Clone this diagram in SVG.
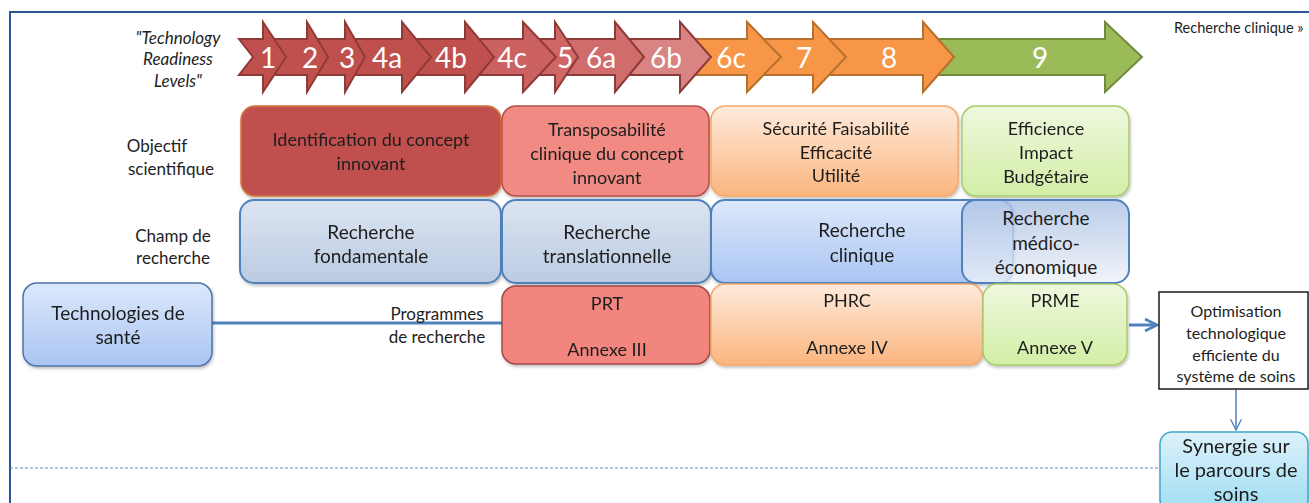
<svg xmlns="http://www.w3.org/2000/svg" width="1309" height="503" viewBox="0 0 1309 503">
  <defs>
    <linearGradient id="gOrange" x1="0" y1="0" x2="0" y2="1">
      <stop offset="0" stop-color="#FEEBDC"/>
      <stop offset="1" stop-color="#FBB57E"/>
    </linearGradient>
    <linearGradient id="gGreen" x1="0" y1="0" x2="0" y2="1">
      <stop offset="0" stop-color="#EEF8DE"/>
      <stop offset="1" stop-color="#D3EEA6"/>
    </linearGradient>
    <linearGradient id="gSlate" x1="0" y1="0" x2="0" y2="1">
      <stop offset="0" stop-color="#DCE4F0"/>
      <stop offset="1" stop-color="#BACBE3"/>
    </linearGradient>
    <linearGradient id="gBlue" x1="0" y1="0" x2="0" y2="1">
      <stop offset="0" stop-color="#DDE8FB"/>
      <stop offset="1" stop-color="#A9C5F2"/>
    </linearGradient>
    <linearGradient id="gMedEco" x1="0" y1="0" x2="0" y2="1">
      <stop offset="0" stop-color="#A9BFE3" stop-opacity="0.8"/>
      <stop offset="1" stop-color="#EEF2F8" stop-opacity="0.8"/>
    </linearGradient>
    <linearGradient id="gCyan" x1="0" y1="0" x2="0" y2="1">
      <stop offset="0" stop-color="#DDF2FB"/>
      <stop offset="1" stop-color="#9FDDF3"/>
    </linearGradient>
    <filter id="shadow" x="-5%" y="-5%" width="110%" height="120%">
      <feDropShadow dx="1" dy="2" stdDeviation="1.5" flood-color="#000" flood-opacity="0.25"/>
    </filter>
    <marker id="head" viewBox="0 0 10 10" refX="9" refY="5" markerWidth="5" markerHeight="5" orient="auto">
      <path d="M1,1 L9,5 L1,9" fill="none" stroke="#4F81BD" stroke-width="1.8"/>
    </marker>
    <marker id="headThin" viewBox="0 0 10 10" refX="9" refY="5" markerWidth="9" markerHeight="9" orient="auto">
      <path d="M1,1 L9,5 L1,9" fill="none" stroke="#4F81BD" stroke-width="1"/>
    </marker>
  </defs>
  <style>
    text { font-family: Lato, "Open Sans", "Liberation Sans", sans-serif; fill: #1e1e1e; text-anchor: middle; }
    .lvl { fill: #ffffff; font-size: 28px; }
    .side { font-size: 17px; }
    .box { font-size: 18px; }
    .big { font-size: 19px; }
    .arR { stroke: #8E3A37; stroke-width: 2; stroke-linejoin: miter; }
    .arO { fill: #F79646; stroke: #B8702F; stroke-width: 2; }
    .arG { fill: #9BBB59; stroke: #718A3E; stroke-width: 2; }
    .shape { filter: url(#shadow); }
  </style>

  <rect width="1309" height="503" fill="#ffffff"/>

  <!-- frame -->
  <path d="M1309,12 L10,12 L10,503" fill="none" stroke="#2F5597" stroke-width="2"/>
  <line x1="10" y1="468" x2="1160" y2="468" stroke="#5B87C5" stroke-width="1.2" stroke-dasharray="3,2"/>

  <!-- readiness level arrows, drawn right to left so each head sits over the next tail -->
  <g id="trl-arrows">
    <path class="arG" d="M921,39 L1105,39 L1105,22 L1142,57 L1105,92 L1105,75 L921,75 L935,57 Z"/>
    <path class="arO" d="M811,39 L923,39 L923,22 L954,57 L923,92 L923,75 L811,75 L825,57 Z"/>
    <path class="arO" d="M745,39 L813,39 L813,22 L846,57 L813,92 L813,75 L745,75 L759,57 Z"/>
    <path class="arO" d="M678,39 L747,39 L747,22 L781,57 L747,92 L747,75 L678,75 L692,57 Z"/>
    <path class="arR" fill="#D98383" d="M613,39 L680,39 L680,22 L711,57 L680,92 L680,75 L613,75 L627,57 Z"/>
    <path class="arR" fill="#D06C6C" d="M553,39 L615,39 L615,22 L644,57 L615,92 L615,75 L553,75 L567,57 Z"/>
    <path class="arR" fill="#CE6766" d="M521,39 L555,39 L555,22 L578,57 L555,92 L555,75 L521,75 L535,57 Z"/>
    <path class="arR" fill="#CB6261" d="M463,39 L523,39 L523,22 L556,57 L523,92 L523,75 L463,75 L477,57 Z"/>
    <path class="arR" fill="#C0504D" d="M400,39 L465,39 L465,22 L494,57 L465,92 L465,75 L400,75 L414,57 Z"/>
    <path class="arR" fill="#C0504D" d="M343,39 L402,39 L402,22 L431,57 L402,92 L402,75 L343,75 L357,57 Z"/>
    <path class="arR" fill="#C0504D" d="M306,39 L345,39 L345,22 L365,57 L345,92 L345,75 L306,75 L320,57 Z"/>
    <path class="arR" fill="#C0504D" d="M262,39 L307,39 L307,22 L328,57 L307,92 L307,75 L262,75 L276,57 Z"/>
    <path class="arR" fill="#C0504D" d="M239,39 L263,39 L263,22 L286,57 L263,92 L263,75 L239,75 L253,57 Z"/>
    <text class="lvl" x="268" y="68">1</text>
    <text class="lvl" x="310" y="68">2</text>
    <text class="lvl" x="347" y="68">3</text>
    <text class="lvl" x="387" y="68">4a</text>
    <text class="lvl" x="451" y="68">4b</text>
    <text class="lvl" x="512" y="68">4c</text>
    <text class="lvl" x="565" y="68">5</text>
    <text class="lvl" x="601" y="68">6a</text>
    <text class="lvl" x="666" y="68">6b</text>
    <text class="lvl" x="731" y="68">6c</text>
    <text class="lvl" x="804" y="68">7</text>
    <text class="lvl" x="889" y="68">8</text>
    <text class="lvl" x="1040" y="68">9</text>
  </g>

  <!-- row labels -->
  <g id="label-trl">
    <text class="side" x="178" y="44" font-style="italic">"Technology</text>
    <text class="side" x="178" y="65" font-style="italic">Readiness</text>
    <text class="side" x="178" y="87" font-style="italic">Levels"</text>
  </g>
  <g id="label-objectif">
    <text class="side" x="157" y="152">Objectif</text>
    <text class="side" x="171" y="175">scientifique</text>
  </g>
  <g id="label-champ">
    <text class="side" x="173" y="242">Champ de</text>
    <text class="side" x="173" y="264">recherche</text>
  </g>
  <g id="label-clinique">
    <text x="1174" y="33" font-size="14.5" style="text-anchor:start">Recherche clinique »</text>
  </g>

  <!-- scientific objectives -->
  <g id="obj-identification" class="shape">
    <rect x="241" y="106" width="260" height="90" rx="14" fill="#C0504D" stroke="#D2763A" stroke-width="1.5"/>
    <text class="box" x="371" y="146">Identification du concept</text>
    <text class="box" x="371" y="170">innovant</text>
  </g>
  <g id="obj-transposabilite" class="shape">
    <rect x="502" y="106" width="207" height="90" rx="14" fill="#F08A82" stroke="#B5504C" stroke-width="1.5"/>
    <text class="box" x="607" y="136">Transposabilité</text>
    <text class="box" x="607" y="160">clinique du concept</text>
    <text class="box" x="607" y="184">innovant</text>
  </g>
  <g id="obj-securite" class="shape">
    <rect x="711" y="106" width="247" height="90" rx="14" fill="url(#gOrange)" stroke="#F5A86A" stroke-width="1.5"/>
    <text class="box" x="836" y="135">Sécurité Faisabilité</text>
    <text class="box" x="836" y="159">Efficacité</text>
    <text class="box" x="836" y="182">Utilité</text>
  </g>
  <g id="obj-efficience" class="shape">
    <rect x="962" y="106" width="167" height="90" rx="14" fill="url(#gGreen)" stroke="#A9CB6A" stroke-width="1.5"/>
    <text class="box" x="1046" y="135">Efficience</text>
    <text class="box" x="1046" y="159">Impact</text>
    <text class="box" x="1046" y="183">Budgétaire</text>
  </g>

  <!-- research fields -->
  <g id="field-fondamentale" class="shape">
    <rect x="240" y="200" width="261" height="83" rx="14" fill="url(#gSlate)" stroke="#4F81BD" stroke-width="2"/>
    <text class="big" x="371" y="239">Recherche</text>
    <text class="big" x="371" y="263">fondamentale</text>
  </g>
  <g id="field-translationnelle" class="shape">
    <rect x="502" y="200" width="209" height="83" rx="14" fill="url(#gSlate)" stroke="#4F81BD" stroke-width="2"/>
    <text class="big" x="607" y="239">Recherche</text>
    <text class="big" x="607" y="263">translationnelle</text>
  </g>
  <g id="field-clinique" class="shape">
    <rect x="711" y="200" width="302" height="83" rx="14" fill="url(#gBlue)" stroke="#4F81BD" stroke-width="2"/>
    <text class="big" x="862" y="237">Recherche</text>
    <text class="big" x="862" y="262">clinique</text>
  </g>
  <g id="field-medico-eco">
    <rect x="962" y="200" width="167" height="83" rx="14" fill="url(#gMedEco)" stroke="#4F81BD" stroke-width="2"/>
    <text class="big" x="1046" y="225">Recherche</text>
    <text class="big" x="1046" y="250">médico-</text>
    <text class="big" x="1046" y="274">économique</text>
  </g>

  <!-- connectors -->
  <g id="connectors">
    <line x1="212" y1="323" x2="502" y2="323" stroke="#4F81BD" stroke-width="3"/>
    <line x1="1129" y1="325" x2="1157" y2="325" stroke="#4F81BD" stroke-width="3" marker-end="url(#head)"/>
    <line x1="1236" y1="389" x2="1236" y2="430" stroke="#4F81BD" stroke-width="1.5" marker-end="url(#headThin)"/>
  </g>

  <!-- health technologies and research programmes -->
  <g id="tech-sante" class="shape">
    <rect x="23" y="283" width="189" height="83" rx="14" fill="url(#gBlue)" stroke="#4F73A8" stroke-width="1.5"/>
    <text class="big" x="118" y="320">Technologies de</text>
    <text class="big" x="118" y="344">santé</text>
  </g>
  <g id="label-programmes">
    <text class="side" x="437" y="320">Programmes</text>
    <text class="side" x="437" y="343">de recherche</text>
  </g>
  <g id="prog-prt" class="shape">
    <rect x="502" y="286" width="208" height="78" rx="14" fill="#F2857D" stroke="#A3474A" stroke-width="1.5"/>
    <text class="box" x="607" y="310">PRT</text>
    <text class="box" x="607" y="356">Annexe III</text>
  </g>
  <g id="prog-phrc" class="shape">
    <rect x="711" y="284" width="272" height="81" rx="14" fill="url(#gOrange)" stroke="#F5A86A" stroke-width="1.5"/>
    <text class="box" x="847" y="307">PHRC</text>
    <text class="box" x="847" y="354">Annexe IV</text>
  </g>
  <g id="prog-prme" class="shape">
    <rect x="983" y="284" width="144" height="81" rx="14" fill="url(#gGreen)" stroke="#A9CB6A" stroke-width="1.5"/>
    <text class="box" x="1055" y="307">PRME</text>
    <text class="box" x="1055" y="354">Annexe V</text>
  </g>

  <!-- outcomes -->
  <g id="optimisation">
    <rect x="1159" y="292" width="149" height="97" fill="#ffffff" stroke="#1a1a1a" stroke-width="1.5"/>
    <text x="1236" y="317" font-size="16">Optimisation</text>
    <text x="1236" y="339" font-size="16">technologique</text>
    <text x="1236" y="361" font-size="16">efficiente du</text>
    <text x="1236" y="382" font-size="16">système de soins</text>
  </g>
  <g id="synergie" class="shape">
    <rect x="1160" y="432" width="148" height="80" rx="12" fill="url(#gCyan)" stroke="#3FA7C9" stroke-width="1.5"/>
    <text x="1236" y="453" font-size="20">Synergie sur</text>
    <text x="1236" y="477" font-size="20">le parcours de</text>
    <text x="1236" y="501" font-size="20">soins</text>
  </g>
</svg>
